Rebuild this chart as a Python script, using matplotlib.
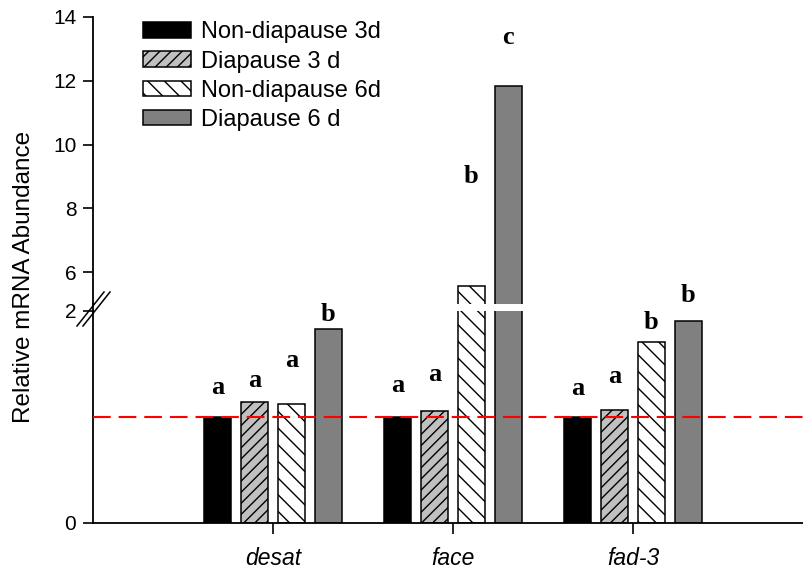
import numpy as np
import matplotlib.pyplot as plt
from matplotlib.lines import Line2D

plt.rcParams['font.family'] = ['Liberation Sans', 'DejaVu Sans']
plt.rcParams['hatch.linewidth'] = 1.0

genes = ['desat', 'face', 'fad-3']
series = ['Non-diapause 3d', 'Diapause 3 d', 'Non-diapause 6d', 'Diapause 6 d']

# relative abundance, one list per series (desat, face, fad-3)
nd3 = [1.0, 1.0, 1.0]
d3 = [1.14, 1.06, 1.07]
nd6 = [1.12, 5.58, 1.71]
d6 = [1.83, 11.84, 1.91]
values = [nd3, d3, nd6, d6]

# significance letters and their heights (in lower-axis units)
letters = [['a', 'a', 'a'], ['a', 'a', 'a'], ['a', 'b', 'b'], ['b', 'c', 'b']]
letter_y = [[1.28, 1.30, 1.27], [1.34, 1.40, 1.38], [1.53, 3.27, 1.89], [1.97, 4.58, 2.15]]

faces = ['black', '#c0c0c0', 'white', '#808080']
hatches = [None, '///', '\\\\', None]

W, H = 804, 568
fig = plt.figure(figsize=(W / 100, H / 100), dpi=100)

def fx(px):
    return px / W

def fy(py):
    return 1 - py / H

left = fx(93)
width = 1 - left
ax_lo = fig.add_axes([left, fy(523), width, fy(311) - fy(523)])
ax_hi = fig.add_axes([left, fy(304), width, fy(17) - fy(304)])
ax_hi.patch.set_alpha(0)

x = np.arange(len(genes))
bw = 0.15
pitch = 0.205

for ax in (ax_lo, ax_hi):
    for i, vals in enumerate(values):
        ax.bar(x + (i - 1.5) * pitch, vals, bw, color=faces[i], hatch=hatches[i],
               edgecolor='black', linewidth=1.1, label=series[i], zorder=2)
    ax.set_xlim(-1, 2.95)
    for s in ('top', 'right'):
        ax.spines[s].set_visible(False)
    ax.spines['left'].set_linewidth(1.3)
    ax.tick_params(axis='y', direction='out', length=7, width=1.2, labelsize=15, pad=5)
    ax.axhline(1.0, color='red', lw=1.5, ls=(0, (8.5, 3.8)), zorder=3)

ax_lo.set_ylim(0, 2)
ax_lo.set_yticks([0, 2])
ax_lo.spines['bottom'].set_linewidth(1.3)
ax_lo.set_xticks(x)
ax_lo.set_xticklabels(genes, style='italic', fontsize=16.5)
ax_lo.tick_params(axis='x', direction='out', length=8, width=1.2, pad=9)

ax_hi.set_ylim(5, 14)
ax_hi.set_yticks([6, 8, 10, 12, 14])
ax_hi.spines['bottom'].set_visible(False)
ax_hi.set_xticks([])

for i in range(len(series)):
    for j in range(len(genes)):
        ax_lo.text(x[j] + (i - 1.5) * pitch, letter_y[i][j], letters[i][j],
                   ha='center', va='center', fontsize=19, fontweight='bold',
                   family='Liberation Serif', clip_on=False, zorder=5)

# spine through the gap and the break marks
fig.add_artist(Line2D([fx(93), fx(93)], [fy(311), fy(304)], color='black', lw=1.3))
for off in (0, 6):
    fig.add_artist(Line2D([fx(77 + off), fx(104 + off)], [fy(326), fy(292)],
                          color='black', lw=1.1))

fig.text(fx(24), fy(277), 'Relative mRNA Abundance', rotation=90,
         ha='center', va='center', fontsize=17.5)

handles, labels = ax_hi.get_legend_handles_labels()
ax_hi.legend(handles, labels, loc='upper left', bbox_to_anchor=(fx(134), fy(12)),
             bbox_transform=fig.transFigure, frameon=False, fontsize=17,
             handlelength=2.0, handleheight=0.63, handletextpad=0.42,
             labelspacing=0.3, borderaxespad=0)

fig.savefig('out.png', dpi=100)
